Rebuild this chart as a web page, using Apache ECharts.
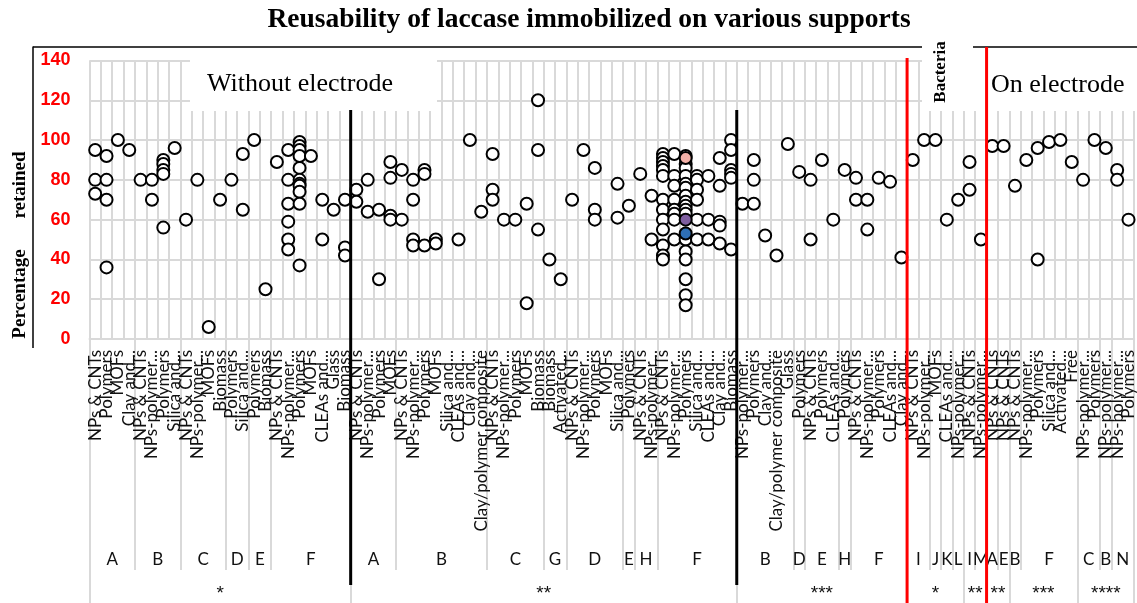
<!DOCTYPE html>
<html><head><meta charset="utf-8">
<script src="https://cdn.jsdelivr.net/npm/echarts@6/dist/echarts.min.js"></script>
<style>html,body{margin:0;padding:0;background:#fff}#c{width:1137px;height:603px}</style>
</head><body><div id="c"></div>
<script>
const categories = [
 'NPs & CNTs','Polymers','MOFs','Clay and...',
 'NPs & CNTs','NPs-polymer...','Polymers','Silica and...',
 'NPs & CNTs','NPs-polymer...','MOFs','Biomass',
 'Polymers','Silica and...',
 'Polymers','Biomass',
 'NPs & CNTs','NPs-polymer...','Polymers','MOFs','CLEAs and...','Glass','Biomass',
 'NPs & CNTs','NPs-polymer...','Polymers','MOFs',
 'NPs & CNTs','NPs-polymer...','Polymers','MOFs','Silica and...','CLEAs and...','Clay and...','Clay/polymer composite',
 'NPs & CNTs','NPs-polymer...','Polymers','MOFs','Biomass',
 'Biomass','Activated...',
 'NPs & CNTs','NPs-polymer...','Polymers','MOFs','Silica and...',
 'Polymers',
 'NPs & CNTs','NPs-polymer...',
 'NPs & CNTs','NPs-polymer...','Polymers','Silica and...','CLEAs and...','Clay and...','Biomass',
 'NPs-polymer...','Polymers','Clay and...','Clay/polymer composite','Glass',
 'Polymers',
 'NPs & CNTs','Polymers','CLEAs and...',
 'Polymers',
 'NPs & CNTs','NPs-polymer...','Polymers','CLEAs and...','Clay and...',
 'NPs & CNTs','NPs-polymer...','MOFs','CLEAs and...','NPs-polymer...',
 'NPs & CNTs','NPs-polymer...',
 'NPs & CNTs','NPs & CNTs','NPs & CNTs',
 'NPs-polymer...','Polymers','Silica and...','Activated...','Free',
 'NPs-polymer...','Polymers','NPs-polymer...','NPs-polymer...','Polymers'
];

// values retained (%) for each category, in category order
const values = [
 [95,80,73],[92,80,70,36],[100],[95],
 [80],[80,70],[90,88,85,83,56],[96],
 [60],[80],[6],[70],
 [80],[93,65],
 [100],[25],
 [89],[95,80,68,59,50,45],[99,97,95,92,86,80,78,77,74,68,37],[92],[70,50],[65],[70,46,42],
 [75,69],[80,64],[65,30],[89,81,62,60],
 [85,60],[80,70,50,47],[85,83,47],[50,48],[],[50],[100],[64],
 [93,75,70],[60],[60],[68,18],[120,95,55],
 [40],[30],
 [70],[95],[86,65,60],[],[78,61],
 [67],
 [83],[72,50],
 [93,91,89,87,85,82,70,65,60,55,47,42,40],[93,82,77,70,65,63,60,50],
 [92,88,86,82,78,76,72,69,67,65,63,50,44,40,30,22,17],[82,80,75,70,60,50],[82,60,50],[91,77,59,57,48],[100,95,85,83,81,45],
 [68],[90,80,68],[52],[42],[98],
 [84],
 [80,50],[90],[60],
 [85],
 [81,70],[70,55],[81],[79],[41],
 [90],[100],[100],[60],[70],
 [89,75],[50],
 [97],[97],[77],
 [90],[96,40],[99],[100],[89],
 [80],[100],[96],[85,80],[60]
];

// highlighted (coloured) points: [categoryIndex, value]
const pinkPoints = [[52, 91]];
const purplePoints = [[52, 60]];
const bluePoints = [[52, 53]];

const level2Names = ['A','B','C','D','E','F','A','B','C','G','D','E','H','F','B','D','E','H','F','I','J','K','L','I','M','A','E','B','F','C','B','N'];
const level2Bounds = [0,4,8,12,14,16,23,27,35,40,42,47,48,50,57,62,63,66,67,72,74,75,76,77,78,79,80,81,82,87,89,90,92];
const level3Names = ['*','**','***','*','**','**','***','****'];
const level3Bounds = [0,23,57,72,77,79,81,87,92];
const electrodeBounds = [72, 79];   // red separators
const groupBounds = [23, 57];       // black separators

const scatterData = [];
values.forEach((arr, k) => arr.forEach(v => scatterData.push([k, v])));

function centers(bounds){ return bounds.slice(0,-1).map((b,i)=>(b+bounds[i+1])/2); }
const l2c = centers(level2Bounds), l3c = centers(level3Bounds);
const l2map = new Map(l2c.map((c,i)=>[c, level2Names[i]]));
const l3map = new Map(l3c.map((c,i)=>[c, level3Names[i]]));

const GRAY = '#d9d9d9';
const chart = echarts.init(document.getElementById('c'));
chart.setOption({
  animation: false,
  grid: {left: 89.5, top: 60.5, width: 1048, height: 278.8, containLabel: false},
  xAxis: [
    {type:'category', data: categories, boundaryGap: true,
     axisLine:{show:true, lineStyle:{color:GRAY, width:2}},
     axisTick:{show:false},
     axisLabel:{interval:0, rotate:90, margin:11, fontSize:17, fontFamily:'Lato', color:'#111'},
     splitLine:{show:true, interval:0, lineStyle:{color:GRAY, width:2}}},
    {type:'value', min:0, max:92, position:'bottom',
     axisLine:{show:false}, splitLine:{show:false},
     axisTick:{show:true, customValues: level2Bounds, length:231, lineStyle:{color:GRAY, width:2}},
     axisLabel:{customValues: l2c, formatter: v => l2map.get(v) || '', margin:212, fontSize:17, fontFamily:'Lato', color:'#111'}},
    {type:'value', min:0, max:92, position:'bottom',
     axisLine:{show:false}, splitLine:{show:false},
     axisTick:{show:true, customValues: level3Bounds, length:266, lineStyle:{color:GRAY, width:2}},
     axisLabel:{customValues: l3c, formatter: v => l3map.get(v) || '', margin:245, fontSize:19, fontFamily:'Liberation Sans', color:'#111'}}
  ],
  yAxis: {type:'value', min:0, max:140, interval:20,
    axisLine:{show:false}, axisTick:{show:false},
    axisLabel:{color:'#ff0000', fontWeight:'bold', fontSize:18, fontFamily:'Liberation Sans', margin:19},
    splitLine:{lineStyle:{color:GRAY, width:2}}},
  series: [
    {type:'scatter', xAxisIndex:0, data: scatterData, symbol:'circle', symbolSize:12,
     itemStyle:{color:'#fff', borderColor:'#000', borderWidth:2, opacity:1}, z:3},
    {type:'scatter', xAxisIndex:0, data: pinkPoints, symbolSize:12,
     itemStyle:{color:'#f4b1a8', borderColor:'#000', borderWidth:2, opacity:1}, z:4},
    {type:'scatter', xAxisIndex:0, data: purplePoints, symbolSize:12,
     itemStyle:{color:'#7f5fa0', borderColor:'#000', borderWidth:2, opacity:1}, z:4},
    {type:'scatter', xAxisIndex:0, data: bluePoints, symbolSize:12,
     itemStyle:{color:'#2e6fb5', borderColor:'#000', borderWidth:2, opacity:1}, z:4}
  ]
});

const X = b => chart.convertToPixel({xAxisIndex: 1}, b);
const g = [];
const rect = (x,y,w,h) => ({type:'rect', z:1, shape:{x,y,width:w,height:h}, style:{fill:'#fff'}});
g.push(rect(190, 58, 247, 53));
g.push(rect(922, 38, 51, 73));
g.push(rect(973, 58, 166, 53));
const line = (x1,y1,x2,y2,c,w) => ({type:'line', z:20, shape:{x1,y1,x2,y2}, style:{stroke:c, lineWidth:w}});
g.push(line(33, 47, 922, 47, '#000', 1.5));
g.push(line(973, 47, 1137, 47, '#000', 1.5));
g.push(line(33, 46.5, 33, 348, '#000', 1.5));
groupBounds.forEach(b => g.push(line(X(b), 110, X(b), 585, '#000', 3)));
g.push(line(X(electrodeBounds[0]), 58, X(electrodeBounds[0]), 603, '#ff0000', 3));
g.push(line(X(electrodeBounds[1]), 47, X(electrodeBounds[1]), 603, '#ff0000', 3));
const txt = (text, x, y, font, opts={}) => Object.assign({type:'text', z:21, x, y,
  style:{text, font, fill:'#000', textAlign: opts.align||'left', textVerticalAlign:'middle'}}, opts.rot ? {rotation: opts.rot} : {});
g.push(txt('Reusability of laccase immobilized on various supports', 589, 20, 'bold 27.5px "Liberation Serif"', {align:'center'}));
g.push(txt('Without electrode', 207, 84, '26px "Liberation Serif"'));
g.push(txt('On electrode', 991, 85, '26px "Liberation Serif"'));
g.push(txt('Bacteria', 941, 72, 'bold 17px "Liberation Serif"', {align:'center', rot: Math.PI/2}));
g.push(txt('Percentage', 20, 294, 'bold 19px "Liberation Serif"', {align:'center', rot: Math.PI/2}));
g.push(txt('retained', 20, 185, 'bold 19px "Liberation Serif"', {align:'center', rot: Math.PI/2}));
chart.setOption({graphic: g});
</script>
</body></html>
